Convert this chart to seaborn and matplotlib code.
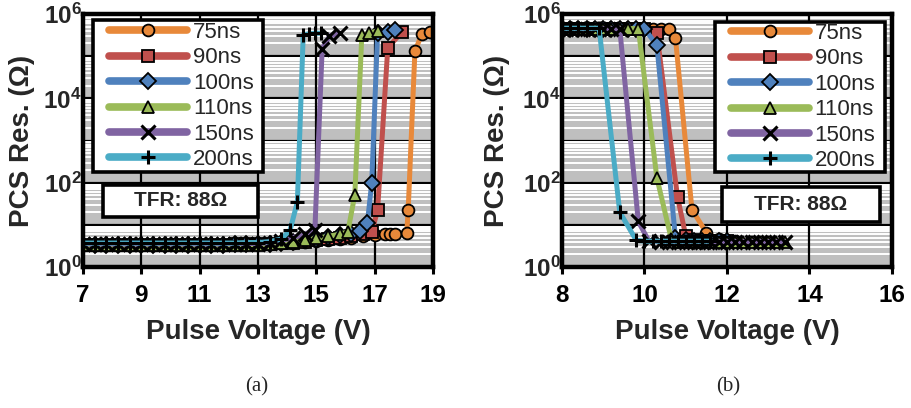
import numpy as np
import pandas as pd
import matplotlib
matplotlib.use("Agg")
import matplotlib.pyplot as plt
import seaborn as sns
from matplotlib.ticker import LogLocator, NullFormatter, FixedLocator
from matplotlib.patches import Rectangle

# ---------------- data ----------------
series = ["75ns", "90ns", "100ns", "110ns", "150ns", "200ns"]
colors = ["#E8893A", "#C0504D", "#4F81BD", "#9BBB59", "#8064A2", "#4BACC6"]
markers = ["o", "s", "D", "^", "x", "+"]

# panel (a): SET-like sweep, resistance vs pulse voltage
a_v_75 = [7.0, 7.4, 7.8, 8.2, 8.6, 9.0, 9.4, 9.8, 10.2, 10.6, 11.0, 11.4, 11.8, 12.2, 12.6, 13.0,
          13.4, 13.8, 14.2, 14.6, 15.0, 15.4, 15.8, 16.2, 16.6, 17.0,
          17.35, 17.52, 17.7, 18.1, 18.15, 18.38, 18.62, 18.88]
a_r_75 = [3.4, 3.4, 3.4, 3.4, 3.4, 3.4, 3.4, 3.4, 3.4, 3.4, 3.4, 3.4, 3.4, 3.5, 3.5, 3.5,
          3.6, 3.7, 3.8, 4.0, 4.2, 4.4, 4.7, 5.0, 5.3, 5.6,
          5.9, 6.0, 6.2, 6.5, 23, 1.3e5, 3.4e5, 3.8e5]
a_v_90 = [7.0, 7.4, 7.8, 8.2, 8.6, 9.0, 9.4, 9.8, 10.2, 10.6, 11.0, 11.4, 11.8, 12.2, 12.6, 13.0,
          13.4, 13.8, 14.2, 14.6, 15.0, 15.4, 15.8, 16.2, 16.6,
          16.9, 17.1, 17.45, 17.95]
a_r_90 = [3.4, 3.4, 3.4, 3.4, 3.4, 3.4, 3.4, 3.4, 3.4, 3.4, 3.4, 3.4, 3.4, 3.5, 3.5, 3.5,
          3.6, 3.7, 3.8, 4.0, 4.3, 4.6, 5.0, 5.4, 5.9,
          6.8, 22, 1.6e5, 3.8e5]
a_v_100 = [7.0, 7.4, 7.8, 8.2, 8.6, 9.0, 9.4, 9.8, 10.2, 10.6, 11.0, 11.4, 11.8, 12.2, 12.6, 13.0,
           13.4, 13.8, 14.2, 14.6, 15.0, 15.4, 15.8, 16.2,
           16.5, 16.75, 16.9, 17.1, 17.45, 17.7]
a_r_100 = [3.4, 3.4, 3.4, 3.4, 3.4, 3.4, 3.4, 3.4, 3.4, 3.4, 3.4, 3.4, 3.4, 3.5, 3.5, 3.5,
           3.6, 3.8, 4.0, 4.3, 4.7, 5.1, 5.6, 6.2,
           7.0, 11, 100, 3.5e5, 3.8e5, 4.2e5]
a_v_110 = [7.0, 7.4, 7.8, 8.2, 8.6, 9.0, 9.4, 9.8, 10.2, 10.6, 11.0, 11.4, 11.8, 12.2, 12.6, 13.0,
           13.4, 13.8, 14.2, 14.6, 15.0, 15.4, 15.8,
           16.08, 16.32, 16.56, 16.82, 17.1]
a_r_110 = [3.3, 3.3, 3.3, 3.3, 3.3, 3.3, 3.3, 3.3, 3.3, 3.3, 3.3, 3.3, 3.3, 3.4, 3.4, 3.4,
           3.5, 3.7, 4.0, 4.4, 4.8, 5.3, 6.0,
           6.8, 52, 3.2e5, 3.5e5, 4.0e5]
a_v_150 = [7.0, 7.4, 7.8, 8.2, 8.6, 9.0, 9.4, 9.8, 10.2, 10.6, 11.0, 11.4, 11.8, 12.2, 12.6, 13.0,
           13.4, 13.8, 14.2, 14.6,
           14.95, 15.2, 15.45, 15.8]
a_r_150 = [3.5, 3.5, 3.5, 3.5, 3.5, 3.5, 3.5, 3.5, 3.5, 3.5, 3.5, 3.5, 3.5, 3.6, 3.6, 3.6,
           3.8, 4.2, 5.0, 6.0,
           7.5, 1.5e5, 3.0e5, 3.5e5]
a_v_200 = [7.0, 7.4, 7.8, 8.2, 8.6, 9.0, 9.4, 9.8, 10.2, 10.6, 11.0, 11.4, 11.8, 12.2, 12.6, 13.0,
           13.4, 13.8,
           14.1, 14.35, 14.55, 14.75, 14.95, 15.15]
a_r_200 = [3.7, 3.7, 3.7, 3.7, 3.7, 3.7, 3.7, 3.7, 3.7, 3.7, 3.7, 3.7, 3.7, 3.7, 3.8, 3.8,
           4.0, 4.6,
           7.5, 35, 3.2e5, 3.4e5, 3.5e5, 3.5e5]

# panel (b): RESET-like sweep
b_v_75 = [8.0, 8.2, 8.4, 8.6, 8.8, 9.0, 9.2, 9.4, 9.6, 9.8, 10.0, 10.2, 10.4, 10.6,
          10.75, 11.15, 11.5, 11.8, 12.0, 12.2]
b_r_75 = [4.5e5, 4.5e5, 4.5e5, 4.5e5, 4.5e5, 4.5e5, 4.5e5, 4.5e5, 4.5e5, 4.5e5, 4.5e5, 4.5e5, 4.5e5, 4.5e5,
          2.7e5, 23, 6.5, 4.5, 4.2, 4.2]
b_v_90 = [8.0, 8.2, 8.4, 8.6, 8.8, 9.0, 9.2, 9.4, 9.6, 9.8, 10.0,
          10.3, 10.8, 11.0, 11.2, 11.4, 11.6, 11.8, 12.0]
b_r_90 = [4.5e5, 4.5e5, 4.5e5, 4.5e5, 4.5e5, 4.5e5, 4.5e5, 4.5e5, 4.5e5, 4.5e5, 4.5e5,
          3.5e5, 46, 5.5, 4.3, 4.2, 4.2, 4.2, 4.2]
b_v_100 = [8.0, 8.2, 8.4, 8.6, 8.8, 9.0, 9.2, 9.4, 9.6, 9.8, 10.0,
           10.3, 10.75, 11.0, 11.2, 11.4, 11.6, 11.8, 12.0]
b_r_100 = [4.5e5, 4.5e5, 4.5e5, 4.5e5, 4.5e5, 4.5e5, 4.5e5, 4.5e5, 4.5e5, 4.5e5, 4.5e5,
           1.8e5, 5.0, 4.3, 4.2, 4.2, 4.2, 4.2, 4.2]
b_v_110 = [8.0, 8.2, 8.4, 8.6, 8.8, 9.0, 9.2, 9.4, 9.6, 9.85,
           10.3, 10.65, 10.8, 11.0, 11.2, 11.4, 11.6, 11.8, 12.0, 12.2, 12.4, 12.6, 12.8, 13.0, 13.2, 13.4]
b_r_110 = [4.5e5, 4.5e5, 4.5e5, 4.5e5, 4.5e5, 4.5e5, 4.5e5, 4.5e5, 4.5e5, 4.5e5,
           130, 4.6, 4.0, 4.0, 4.0, 4.0, 4.0, 4.0, 4.0, 4.0, 4.0, 4.0, 4.0, 4.0, 4.0, 4.0]
b_v_150 = [8.0, 8.2, 8.4, 8.6, 8.8, 9.0, 9.2, 9.4,
           9.85, 10.1, 10.4, 10.6, 10.8, 11.0, 11.2, 11.4, 11.6, 11.8, 12.0, 12.2, 12.4, 12.6,
           12.8, 13.0, 13.2, 13.4]
b_r_150 = [4.5e5, 4.5e5, 4.5e5, 4.5e5, 4.5e5, 4.5e5, 4.5e5, 4.5e5,
           12, 4.2, 4.0, 4.0, 4.0, 4.0, 4.0, 4.0, 4.0, 4.0, 4.0, 4.0, 4.0, 4.0,
           4.0, 4.0, 4.0, 4.0]
b_v_200 = [8.0, 8.2, 8.4, 8.6, 8.9,
           9.4, 9.8, 10.0, 10.2, 10.4, 10.6, 10.8, 11.0, 11.2, 11.4, 11.6]
b_r_200 = [4.6e5, 4.6e5, 4.6e5, 4.6e5, 4.6e5,
           20, 4.3, 4.1, 4.1, 4.1, 4.1, 4.1, 4.1, 4.1, 4.1, 4.1]

panel_a = [(a_v_75, a_r_75), (a_v_90, a_r_90), (a_v_100, a_r_100),
           (a_v_110, a_r_110), (a_v_150, a_r_150), (a_v_200, a_r_200)]
panel_b = [(b_v_75, b_r_75), (b_v_90, b_r_90), (b_v_100, b_r_100),
           (b_v_110, b_r_110), (b_v_150, b_r_150), (b_v_200, b_r_200)]

ytick_vals = [1, 10, 100, 1e3, 1e4, 1e5, 1e6]
ytick_labels = [r"$\mathbf{10^{0}}$", "", r"$\mathbf{10^{2}}$", "",
                r"$\mathbf{10^{4}}$", "", r"$\mathbf{10^{6}}$"]
a_xticks = [7, 9, 11, 13, 15, 17, 19]
b_xticks = [8, 10, 12, 14, 16]
tfr_text = "TFR: 88Ω"
x_label = "Pulse Voltage (V)"
y_label = "PCS Res. (Ω)"

# ---------------- style ----------------
sns.set_theme(style="white")
plt.rcParams["font.family"] = ["Liberation Sans", "DejaVu Sans"]
plt.rcParams["mathtext.fontset"] = "custom"
plt.rcParams["mathtext.rm"] = "Liberation Sans:bold"
plt.rcParams["mathtext.bf"] = "Liberation Sans:bold"
plt.rcParams["mathtext.it"] = "Liberation Sans:bold"

W, H = 912, 408
fig = plt.figure(figsize=(W / 100, H / 100), dpi=100)


def px_axes(l, t, r, b):
    return fig.add_axes([l / W, 1 - b / H, (r - l) / W, (b - t) / H])


ax_a = px_axes(83, 14, 433, 267)
ax_b = px_axes(562, 14, 892, 267)


def boxed(ax, box, z):
    x0, y0, x1, y1 = box
    ax.add_patch(Rectangle((x0, y0), x1 - x0, y1 - y0, transform=ax.transAxes,
                           facecolor="white", edgecolor="black", lw=2.6, zorder=z))


def draw(ax, data, xlim, xticks, leg_box, tfr_box, ylab_x):
    ax.set_yscale("log")
    for name, col, mk, (v, r) in zip(series, colors, markers, data):
        df = pd.DataFrame({"V": v, "R": r})
        mew = 2.2 if mk in ("x", "+") else 1.3
        ms = 10.5 if mk in ("x", "+") else 8.5
        sns.lineplot(data=df, x="V", y="R", ax=ax, color=col, marker=mk,
                     linewidth=3.6, markersize=ms, mec="black", mew=mew,
                     sort=False, label=name)
    ax.set_facecolor("#BFBFBF")
    ax.set_xlim(*xlim)
    ax.set_ylim(1, 1e6)
    ax.set_xticks(xticks)
    ax.set_xticklabels([str(t) for t in xticks], fontsize=17.5, fontweight="bold")
    ax.yaxis.set_major_locator(FixedLocator(ytick_vals))
    ax.set_yticklabels(ytick_labels, fontsize=17.5)
    ax.yaxis.set_minor_locator(LogLocator(base=10, subs=np.arange(2, 10), numticks=30))
    ax.yaxis.set_minor_formatter(NullFormatter())
    ax.grid(which="minor", axis="y", color="white", lw=1.4)
    ax.grid(which="major", axis="both", color="black", lw=1.6)
    ax.xaxis.set_zorder(1.6)
    ax.tick_params(axis="x", which="major", length=5, width=2.2, pad=7, direction="out",
                   bottom=True, colors="black")
    ax.tick_params(axis="y", which="major", length=0, pad=1, left=True)
    ax.tick_params(axis="y", which="minor", length=0)
    for s in ax.spines.values():
        s.set_linewidth(3.2)
        s.set_color("black")
    ax.set_xlabel(x_label, fontsize=20, fontweight="bold")
    ax.set_ylabel(y_label, fontsize=20, fontweight="bold")
    ax.xaxis.label.set_va("center")
    ax.yaxis.label.set_va("center")
    ax.xaxis.set_label_coords(0.5, -0.257)
    ax.yaxis.set_label_coords(ylab_x, 0.5)

    # legend: white framed box + frameless legend centred inside it
    boxed(ax, leg_box, 4.8)
    lx0, ly0, lx1, ly1 = leg_box
    leg = ax.legend(loc="center", bbox_to_anchor=((lx0 + lx1) / 2 + 0.01, (ly0 + ly1) / 2),
                    frameon=False, prop={"size": 16, "weight": "normal"},
                    handlelength=3.5, handletextpad=0.25, labelspacing=0.2,
                    borderpad=0.0, borderaxespad=0)
    leg.set_zorder(5)
    for lh in leg.get_lines():
        lh.set_linewidth(5.5)

    boxed(ax, tfr_box, 6)
    x0, y0, x1, y1 = tfr_box
    ax.text((x0 + x1) / 2, (y0 + y1) / 2, tfr_text, transform=ax.transAxes,
            ha="center", va="center", fontsize=15, fontweight="bold", zorder=7)


draw(ax_a, panel_a, (7, 19), a_xticks, (0.029, 0.375, 0.514, 0.976),
     (0.057, 0.198, 0.50, 0.324), -0.174)
draw(ax_b, panel_b, (8, 16), b_xticks, (0.464, 0.375, 0.979, 0.968),
     (0.485, 0.178, 0.964, 0.316), -0.197)

fig.text(257 / W, 1 - 387 / H, "(a)", family="Liberation Serif", fontsize=15,
         ha="center", va="center")
fig.text(728 / W, 1 - 387 / H, "(b)", family="Liberation Serif", fontsize=15,
         ha="center", va="center")

fig.savefig("out.png", dpi=100)
